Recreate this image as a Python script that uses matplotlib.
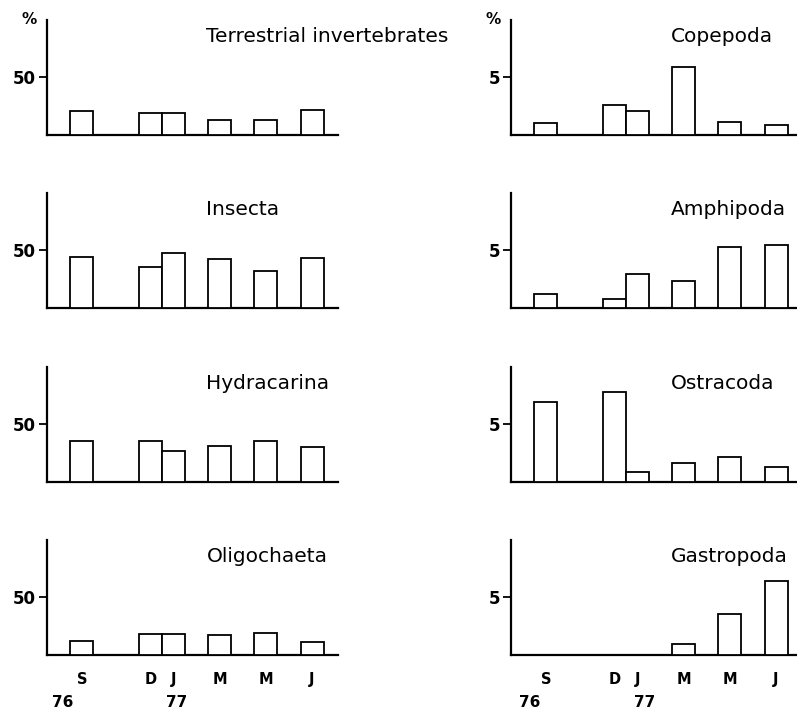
import matplotlib
matplotlib.use('Agg')
import matplotlib.pyplot as plt

# months since September 1976 for each sampling date
sample_month = [0, 3, 4, 6, 8, 10]
month_labels = ['S', 'D', 'J', 'M', 'M', 'J']
year_labels = ['76', '77']

# percentage composition of the diet, left column (scale 50 %)
terrestrial = [20.3, 18.9, 18.9, 13.3, 13.3, 21.4]
insecta = [44.2, 35.3, 47.1, 42.0, 32.1, 43.3]
hydracarina = [35.4, 35.1, 26.5, 30.6, 35.7, 30.0]
oligochaeta = [11.7, 17.9, 17.9, 16.8, 18.8, 11.5]

# right column (scale 5 %)
copepoda = [1.0, 2.56, 2.07, 5.86, 1.09, 0.86]
amphipoda = [1.24, 0.76, 2.92, 2.35, 5.24, 5.44]
ostracoda = [6.9, 7.73, 0.85, 1.66, 2.15, 1.33]
gastropoda = [0.0, 0.0, 0.0, 0.92, 3.5, 6.38]

left_panels = [('Terrestrial invertebrates', terrestrial), ('Insecta', insecta),
               ('Hydracarina', hydracarina), ('Oligochaeta', oligochaeta)]
right_panels = [('Copepoda', copepoda), ('Amphipoda', amphipoda),
                ('Ostracoda', ostracoda), ('Gastropoda', gastropoda)]

plt.rcParams['font.family'] = 'DejaVu Sans'
fig = plt.figure(figsize=(7.97, 7.09), dpi=100)

W, H = 797.0, 709.0
baselines = [135, 308, 482, 655]
panel_h = 115
panel_w = 291


def draw_panel(left_px, base_px, name, vals, tick_val, tick_lbl, bottom_row, year_x):
    ax = fig.add_axes([left_px / W, 1 - base_px / H, panel_w / W, panel_h / H])
    ax.bar(sample_month, vals, width=1.0, color='white', edgecolor='black',
           linewidth=1.3, zorder=3)
    ax.set_xlim(-1.52, 11.13)
    ax.set_ylim(0, tick_val * 1.98)
    for s in ['top', 'right']:
        ax.spines[s].set_visible(False)
    for s in ['left', 'bottom']:
        ax.spines[s].set_linewidth(1.6)
    ax.set_yticks([tick_val])
    ax.set_yticklabels([tick_lbl], fontsize=12, fontweight='bold')
    ax.tick_params(axis='y', length=6, width=1.3, pad=2)
    ax.set_xticks(sample_month)
    if bottom_row:
        ax.set_xticklabels(month_labels, fontsize=10.5, fontweight='bold')
        ax.tick_params(axis='x', length=0, pad=12)
        for xv, lbl in zip(year_x, year_labels):
            ax.text(xv, -0.41, lbl, transform=ax.get_xaxis_transform(),
                    ha='center', va='center', fontsize=11, fontweight='bold')
    else:
        ax.set_xticklabels([])
        ax.tick_params(axis='x', length=0)
    ax.text(0.548, 0.855, name, transform=ax.transAxes, ha='left', va='center',
            fontsize=14.5)
    return ax


for row, ((lname, lvals), (rname, rvals)) in enumerate(zip(left_panels, right_panels)):
    bottom = row == len(left_panels) - 1
    axl = draw_panel(47, baselines[row], lname, lvals, 50, '50', bottom, (-0.85, 4.1))
    axr = draw_panel(511, baselines[row], rname, rvals, 5, '5', bottom, (-0.7, 4.3))
    if row == 0:
        for a in (axl, axr):
            a.text(-0.06, 1.0, '%', transform=a.transAxes, ha='center', va='center',
                   fontsize=11, fontweight='bold')

fig.savefig('out.png', dpi=100, facecolor='white')
